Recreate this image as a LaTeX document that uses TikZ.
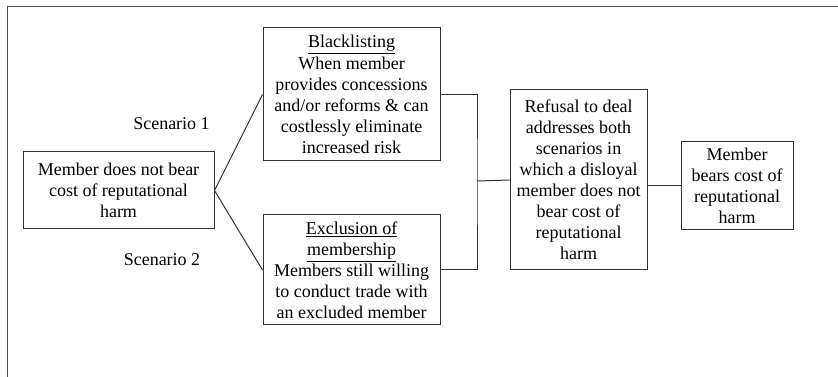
\documentclass[tikz,border=0pt]{standalone}
\usepackage{fontspec}
\setmainfont{Liberation Serif}
\usepackage{tikz}
\usetikzlibrary{positioning, calc}

\begin{document}
\begin{tikzpicture}[x=0.75pt,y=-0.75pt,line width=0.75pt,
    font=\fontsize{13.5}{15.8}\selectfont,
    box/.style={draw=black!80,align=center,inner sep=0pt}]
    \useasboundingbox (0,0) rectangle (838,377);
    \node (nohurt) at (118.5,190.5) [box,minimum width=143.25pt,minimum height=57.75pt] {Member does not bear\\cost of reputational\\harm}; %
    \node (black) at (351.5,94.5) [box,minimum width=132.75pt,minimum height=99.75pt] {\underline{Blacklisting}\\When member\\provides concessions\\and/or reforms \& can\\costlessly eliminate\\increased risk}; %
    \node (excl) at (351.5,270) [box,minimum width=132.75pt,minimum height=82.5pt] {\underline{Exclusion of}\\\underline{membership}\\Members still willing\\to conduct trade with\\an excluded member}; %
    \node (refusal) at (578.5,180) [box,minimum width=102.75pt,minimum height=135pt] {Refusal to deal\\addresses both\\scenarios in\\which a disloyal\\member does not\\bear cost of\\reputational\\harm}; %
    \node (bears) at (737,186) [box,minimum width=84pt,minimum height=66pt] {Member\\bears cost of\\reputational\\harm}; %
    \node (sc1) at (171.5,124) {Scenario 1}; %
    \node (sc2) at (162,260) {Scenario 2}; %
    \coordinate (join) at (477,181); %

    %%%% arcs
    \draw [black!80] (nohurt.east) to (black.west); %
    \draw [black!80] (nohurt.east) to (excl.west); %
    \draw [black!80] (black.east) -| (join) |- (excl.east); %
    \draw [black!80] (join) to (refusal.west); %
    \draw [black!80] (refusal.east |- bears.west) to (bears.west); %

    %%%% cadre
    \draw [black!70] (838,7) -- (7,7) -- (7,377);
\end{tikzpicture}
\end{document}
